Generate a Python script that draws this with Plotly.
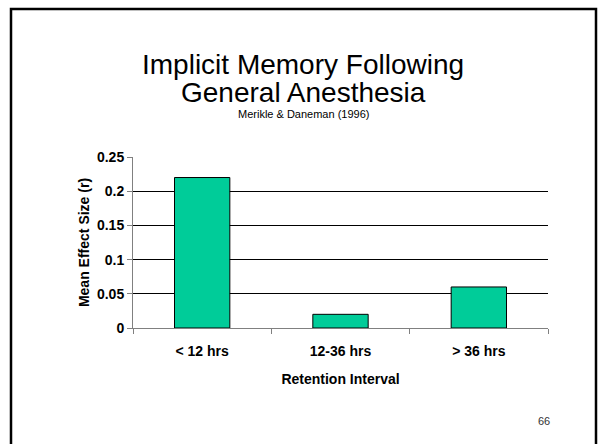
import plotly.graph_objects as go

# Data
categories = ["< 12 hrs", "12-36 hrs", "> 36 hrs"]
effect_sizes = [0.22, 0.02, 0.06]
y_ticks = [0, 0.05, 0.1, 0.15, 0.2, 0.25]
y_tick_labels = ["0", "0.05", "0.1", "0.15", "0.2", "0.25"]

FONT = "Liberation Sans, Arial, sans-serif"
W, H = 600, 444
L, R, T, B = 133, 548, 157, 328  # plot area in pixels


def px(x):
    return (x - L) / (R - L)


def py(y):
    return (B - y) / (B - T)


fig = go.Figure(
    go.Bar(
        x=categories,
        y=effect_sizes,
        marker=dict(color="#00CC99", line=dict(color="#000000", width=1)),
    )
)

fig.update_layout(
    width=W,
    height=H,
    margin=dict(l=L, r=W - R, t=T, b=H - B),
    paper_bgcolor="white",
    plot_bgcolor="white",
    bargap=0.6,
    showlegend=False,
    font=dict(family=FONT, color="black"),
)

fig.update_xaxes(
    showline=True,
    linecolor="#808080",
    linewidth=1,
    ticks="outside",
    tickson="boundaries",
    ticklen=5,
    tickcolor="#808080",
    ticklabelstandoff=10,
    tickfont=dict(size=14, family=FONT, color="black", weight="bold"),
    title=dict(text="<b>Retention Interval</b>", font=dict(size=14), standoff=16),
    showgrid=False,
)

fig.update_yaxes(
    range=[0, 0.25],
    tickvals=y_ticks,
    ticktext=y_tick_labels,
    showline=True,
    linecolor="#808080",
    linewidth=1,
    ticks="outside",
    ticklen=5,
    tickcolor="#808080",
    showgrid=True,
    gridcolor="#000000",
    gridwidth=1,
    zeroline=False,
    tickfont=dict(size=14, family=FONT, color="black", weight="bold"),
    title=dict(text="<b>Mean Effect Size (r)</b>", font=dict(size=14), standoff=4),
)

# Slide frame (open at the bottom)
fig.add_shape(
    type="rect", xref="paper", yref="paper",
    x0=px(11), x1=px(596), y0=py(470), y1=py(9),
    line=dict(color="black", width=2.5), fillcolor="rgba(0,0,0,0)",
)

# Title block
texts = [
    ("Implicit Memory Following", 64, 28),
    ("General Anesthesia", 92, 28),
    ("Merikle & Daneman (1996)", 114, 11),
]
for text, yc, size in texts:
    fig.add_annotation(
        text=text, xref="paper", yref="paper",
        x=px(303), y=py(yc), xanchor="center", yanchor="middle",
        showarrow=False, font=dict(size=size, family=FONT, color="black"),
    )

# Page number
fig.add_annotation(
    text="66", xref="paper", yref="paper",
    x=px(544), y=py(421), xanchor="center", yanchor="middle",
    showarrow=False, font=dict(size=11, family=FONT, color="#333333"),
)

fig.write_html("out.html")
